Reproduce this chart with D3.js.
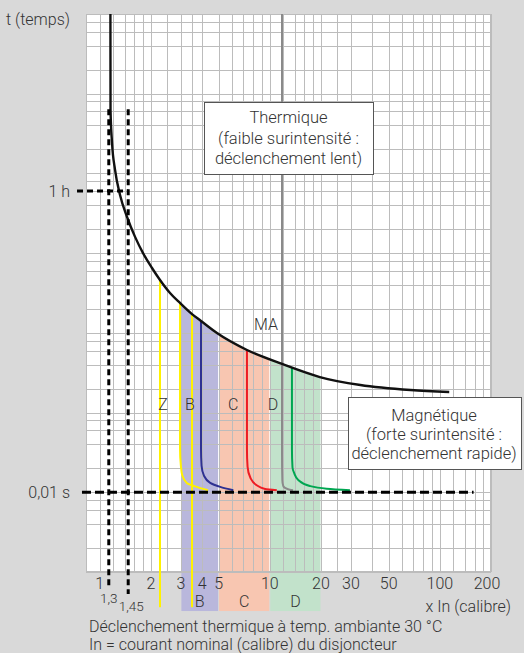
<!DOCTYPE html>
<html><head><meta charset="utf-8">
<script src="https://cdn.jsdelivr.net/npm/d3@7"></script>
<style>
body{margin:0;background:#d9d9d9}
svg{display:block}
text{font-family:Roboto,"Liberation Sans",Arial,sans-serif;font-weight:300;fill:#333}
</style>
</head><body>
<svg id="c" width="524" height="653"></svg>
<script>
// ---------- data ----------
const xTickValues = [1, 2, 3, 4, 5, 10, 20, 30, 50, 100, 200];
const xGridValues = [1,1.2,1.4,1.6,1.8,2,2.5,3,3.5,4,5,6,7,8,9,
                     10,12,14,16,18,20,25,30,40,50,60,70,80,90,
                     100,120,140,160,180,200];
const yGridValues = [0.001,0.002,0.004,0.006,0.008,
                     0.01,0.02,0.04,0.06,0.08,
                     0.1,0.2,0.4,0.6,0.8,
                     1,2,4,6,8,
                     10,20,40,60,80,
                     100,200,400,600,800,
                     1000,2000,4000,6000,8000,10000];
const yTickValues = [60, 0.01];
const yTickLabels = ["1 h", "0,01 s"];

// thermal (black) curve
const thermalCurrent = [1.155,1.157,1.181,1.23,1.316,1.447,1.613,1.797,2.029,2.261,2.589,2.965,3.488,3.94,4.89,7.34,11.8,19.7,34.1,67.3,113.6];
const thermalTime    = [12000,627,241,111,53.7,28.4,16,10,6.51,4.60,3.16,2.37,1.72,1.41,0.995,0.61,0.407,0.279,0.222,0.192,0.181];

// trip curves (vertical part then bend to 0.01 s)
const yellowCurrent = [2.965,2.965,3.0,3.06,3.25,3.72,4.33];
const yellowTime    = [2.37,0.035,0.0215,0.0162,0.0131,0.0117,0.0106];
const blueCurrent   = [3.94,3.94,3.97,4.1,4.46,5.11,6.1];
const blueTime      = [1.41,0.035,0.0215,0.0162,0.0131,0.0117,0.0106];
const redCurrent    = [7.34,7.34,7.4,7.7,8.31,9.39,11.0];
const redTime       = [0.61,0.035,0.021,0.0151,0.0124,0.011,0.0106];
const grayCurrent   = [11.8,11.8,11.85,12.0,12.8,13.7];
const grayTime      = [12000,0.03,0.0143,0.012,0.0109,0.0106];
const greenCurrent  = [13.5,13.5,13.6,13.9,14.7,17.2,21.6,29.6];
const greenTime     = [0.369,0.035,0.0205,0.0175,0.0143,0.012,0.0111,0.0106];

// straight yellow lines (Z and B)
const straightCurrent = [2.261, 3.488];
const straightTop     = [4.60, 1.72];
const straightBottom  = 0.00036;

// bands
const bandLabels = ["B", "C", "D"];
const bandStart  = [3, 5, 10];
const bandEnd    = [5, 10, 20];
const bandColors = ["#b9b7dc", "#f8c6b1", "#c2e2cb"];
const bandBottom = 0.000324;

// curve labels inside plot
const curveLabels  = ["Z", "B", "C", "D", "MA"];
const curveLabelX  = [2.356, 3.39, 6.09, 10.45, 9.5];
const curveLabelT  = [0.128, 0.128, 0.128, 0.128, 1.29];

// dashed reference lines
const dashVCurrent = [1.13, 1.47];
const dashVLabels  = ["1,3", "1,45"];
const dashVTop     = 640;
const dashVBottom  = [0.00065, 0.00053];
const dashHTime    = [60, 0.01];
const dashHFrom    = [0.735, 0.786];
const dashHTo      = [1.47, 158];

const thermText = ["Thermique", "(faible surintensité :", "déclenchement lent)"];
const magText   = ["Magnétique", "(forte surintensité :", "déclenchement rapide)"];

// ---------- drawing ----------
const svg = d3.select("#c");
const L = 86, R = 491, T = 14, B = 572;
const x = d3.scaleLog().domain([0.83, 200]).range([L, R]);
const y = d3.scaleLog().domain([0.001, 10000]).range([B, T]);

svg.append("rect").attr("width", 524).attr("height", 653).attr("fill", "#d9d9d9");
svg.append("rect").attr("x", L).attr("y", T).attr("width", R - L).attr("height", B - T).attr("fill", "#fff");

const thermalPts = thermalCurrent.map((c, i) => [c, thermalTime[i]]);
const thermGen = d3.line().x(d => x(d[0])).y(d => y(d[1])).curve(d3.curveMonotoneX);
const tripGen = d3.line().x(d => x(d[0])).y(d => y(d[1])).curve(d3.curveMonotoneY);

// clip: region under the thermal curve
const areaGen = d3.area().x(d => x(d[0])).y1(d => y(d[1])).y0(y(bandBottom) + 2).curve(d3.curveMonotoneX);
svg.append("clipPath").attr("id", "under").append("path").attr("d", areaGen(thermalPts));
svg.append("clipPath").attr("id", "plot").append("rect").attr("x", L).attr("y", T).attr("width", R - L).attr("height", B - T);

// bands
const bandG = svg.append("g").attr("clip-path", "url(#under)");
bandLabels.forEach((lab, i) => {
  bandG.append("rect")
    .attr("x", x(bandStart[i]) + 0.5)
    .attr("width", x(bandEnd[i]) - x(bandStart[i]) - 1)
    .attr("y", T)
    .attr("height", y(bandBottom) - T)
    .attr("fill", bandColors[i]);
});

// grid
const grid = svg.append("g").attr("stroke", "#bcbcbc").attr("stroke-width", 1);
grid.selectAll("line.v").data(xGridValues).join("line")
  .attr("x1", d => Math.round(x(d)) + 0.5).attr("x2", d => Math.round(x(d)) + 0.5)
  .attr("y1", T).attr("y2", B);
grid.selectAll("line.h").data(yGridValues).join("line")
  .attr("y1", d => Math.round(y(d)) + 0.5).attr("y2", d => Math.round(y(d)) + 0.5)
  .attr("x1", L).attr("x2", R);
svg.append("rect").attr("x", L + 0.5).attr("y", T + 0.5).attr("width", R - L - 1).attr("height", B - T - 1)
  .attr("fill", "none").attr("stroke", "#bcbcbc");

// band labels under the plot
bandLabels.forEach((lab, i) => {
  svg.append("text").attr("x", x(Math.sqrt(bandStart[i] * bandEnd[i]))).attr("y", 607)
    .attr("text-anchor", "middle").attr("font-size", 16).text(lab);
});

// straight yellow lines
straightCurrent.forEach((c, i) => {
  svg.append("line").attr("x1", x(c)).attr("x2", x(c))
    .attr("y1", y(straightTop[i])).attr("y2", y(straightBottom))
    .attr("stroke", "#fff200").attr("stroke-width", 2);
});

// trip curves
const trips = [
  [grayCurrent, grayTime, "#8a8a8a"],
  [yellowCurrent, yellowTime, "#fff200"],
  [blueCurrent, blueTime, "#2e3192"],
  [redCurrent, redTime, "#ed1c24"],
  [greenCurrent, greenTime, "#00a651"]
];
const tripG = svg.append("g").attr("clip-path", "url(#plot)");
trips.forEach(([cs, ts, col]) => {
  tripG.append("path").attr("d", tripGen(cs.map((c, i) => [c, ts[i]])))
    .attr("fill", "none").attr("stroke", col).attr("stroke-width", 2);
});

// thermal curve
svg.append("path").attr("clip-path", "url(#plot)").attr("d", thermGen(thermalPts))
  .attr("fill", "none").attr("stroke", "#111").attr("stroke-width", 2.4);

// dashed lines
dashVCurrent.forEach((c, i) => {
  svg.append("line").attr("x1", x(c)).attr("x2", x(c))
    .attr("y1", y(dashVTop)).attr("y2", y(dashVBottom[i]))
    .attr("stroke", "#000").attr("stroke-width", 3).attr("stroke-dasharray", "6,4");
});
dashHTime.forEach((t, i) => {
  svg.append("line").attr("x1", x(dashHFrom[i])).attr("x2", x(dashHTo[i]))
    .attr("y1", y(t)).attr("y2", y(t))
    .attr("stroke", "#000").attr("stroke-width", 3).attr("stroke-dasharray", i === 0 ? "6,4" : "9,4");
});

// curve labels
curveLabels.forEach((lab, i) => {
  svg.append("text").attr("x", x(curveLabelX[i])).attr("y", y(curveLabelT[i]) + 6)
    .attr("text-anchor", "middle").attr("font-size", 16).text(lab);
});

// boxes
function box(x0, y0, w, h, lines, cx, firstY, step) {
  svg.append("rect").attr("x", x0 + 0.5).attr("y", y0 + 0.5).attr("width", w).attr("height", h)
    .attr("fill", "#fff").attr("stroke", "#555").attr("stroke-width", 1);
  lines.forEach((s, i) => {
    svg.append("text").attr("x", cx).attr("y", firstY + i * step)
      .attr("text-anchor", "middle").attr("font-size", 16.5).text(s);
  });
}
box(204, 102, 169, 72, thermText, 288.5, 123, 20.5);
box(348, 397, 173, 72, magText, 434, 421, 19);

// axes labels
svg.selectAll("text.xt").data(xTickValues).join("text")
  .attr("x", d => x(d) + (d === 200 ? -4 : 0)).attr("y", 589)
  .attr("text-anchor", "middle").attr("font-size", 16).text(d => d);
dashVCurrent.forEach((c, i) => {
  svg.append("text").attr("x", x(c) + (i === 0 ? 0 : 3)).attr("y", i === 0 ? 603 : 611)
    .attr("text-anchor", "middle").attr("font-size", 13.5).text(dashVLabels[i]);
});
yTickValues.forEach((t, i) => {
  svg.append("text").attr("x", 70).attr("y", y(t) + 6)
    .attr("text-anchor", "end").attr("font-size", 16).text(yTickLabels[i]);
});
svg.append("text").attr("x", 6).attr("y", 25).attr("font-size", 16).text("t (temps)");
svg.append("text").attr("x", 511).attr("y", 612).attr("text-anchor", "end").attr("font-size", 16).text("x In (calibre)");
svg.append("text").attr("x", 89).attr("y", 632).attr("font-size", 16).text("Déclenchement thermique à temp. ambiante 30 °C");
svg.append("text").attr("x", 89).attr("y", 650).attr("font-size", 16).text("In = courant nominal (calibre) du disjoncteur");
</script>
</body></html>
